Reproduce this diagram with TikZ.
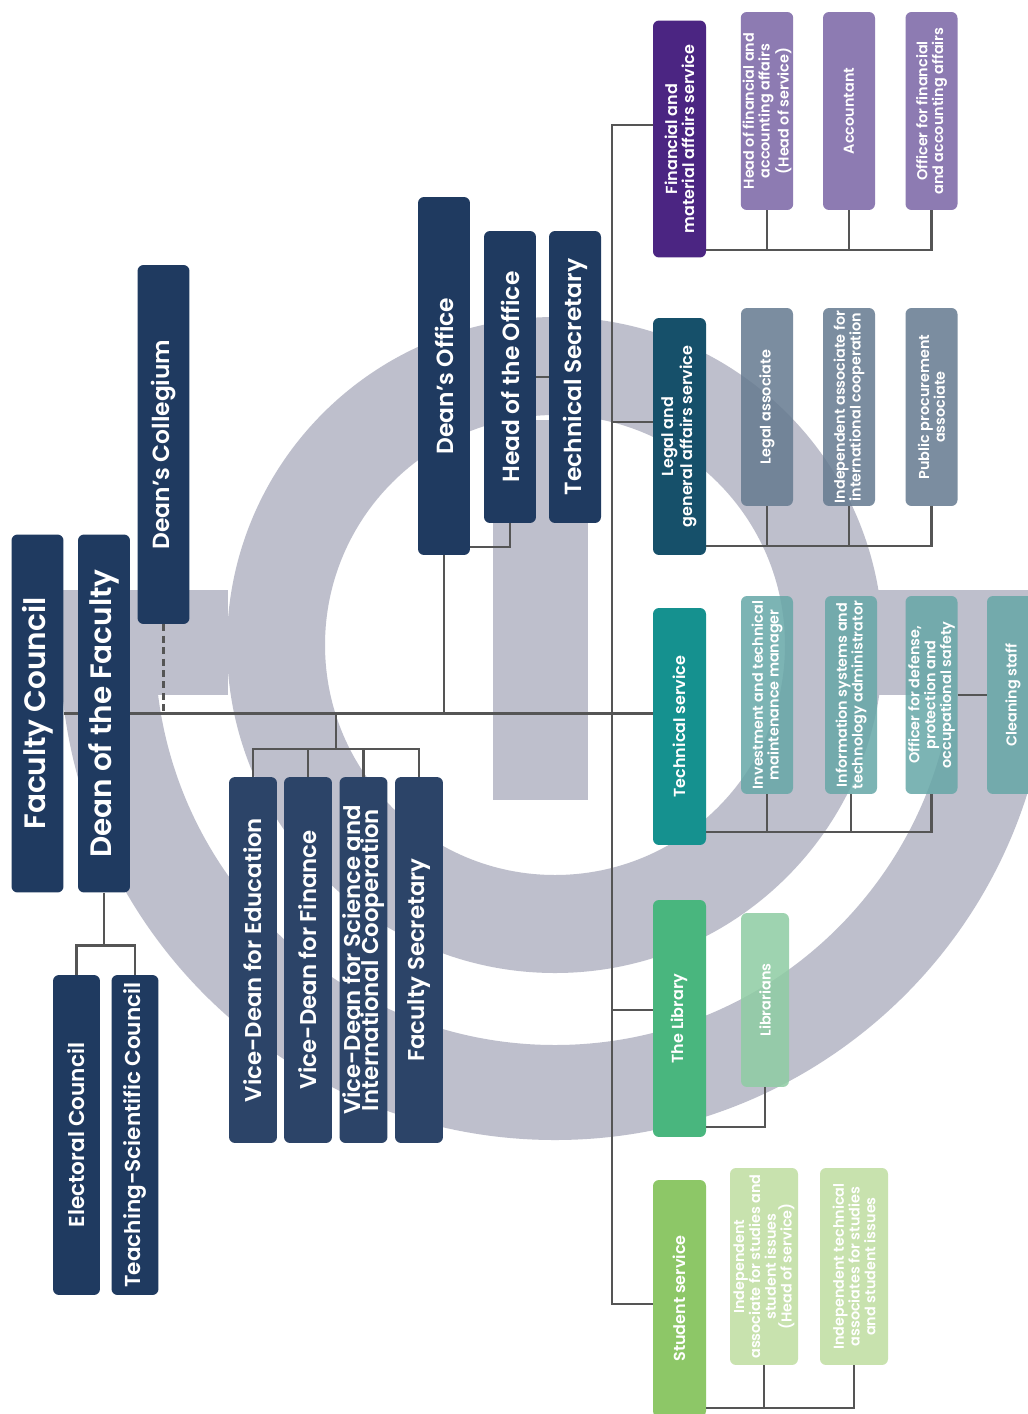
\documentclass[tikz,border=0pt]{standalone}
\usepackage{fontspec}
\IfFontExistsTF{Poppins SemiBold}
  {\setmainfont{Poppins}[BoldFont={Poppins SemiBold}]}
  {\setmainfont{Poppins}}
\definecolor{navy}{HTML}{1F3A60}
\definecolor{vicenavy}{HTML}{2C4468}
\definecolor{finhead}{HTML}{4B2582}
\definecolor{finstaff}{HTML}{7A65A5}
\definecolor{leghead}{HTML}{16506A}
\definecolor{legstaff}{HTML}{657A90}
\definecolor{techhead}{HTML}{15918F}
\definecolor{techstaff}{HTML}{66A7A7}
\definecolor{libhead}{HTML}{49B67E}
\definecolor{libstaff}{HTML}{8ECCA3}
\definecolor{stuhead}{HTML}{8DC767}
\definecolor{stustaff}{HTML}{BFDDA0}
\definecolor{logogrey}{HTML}{BEBFCC}
\definecolor{linegrey}{HTML}{555555}

\begin{document}
\begin{tikzpicture}[
  x=0.02cm, y=-0.02cm,
  box/.style={rectangle,rounded corners=1.2mm,rotate=90,align=center,text=white,inner sep=1pt},
  leadbox/.style={box,fill=navy,minimum height=1.04cm,minimum width=7.16cm,font=\fontsize{16.8}{12}\selectfont\bfseries},
  officebox/.style={box,fill=navy,minimum height=1.04cm,minimum width=5.84cm,font=\fontsize{13.3}{12}\selectfont\bfseries},
  councilbox/.style={box,fill=navy,minimum height=0.94cm,minimum width=6.4cm,font=\fontsize{12.3}{12}\selectfont\bfseries},
  vicebox/.style={box,fill=vicenavy,minimum height=0.96cm,minimum width=7.32cm,font=\fontsize{13}{10.6}\selectfont\bfseries},
  svcbox/.style={box,minimum height=1.06cm,minimum width=4.74cm,font=\fontsize{9.1}{9.6}\selectfont\bfseries},
  staffbox/.style={box,fill opacity=0.85,text opacity=1,minimum height=1.04cm,minimum width=3.96cm,font=\fontsize{8.2}{9}\selectfont\bfseries},
  conn/.style={draw=linegrey,line width=1.6pt},
]
\useasboundingbox (0,0) rectangle (1028,1414);
\fill[white] (0,0) rectangle (1028,1414);

% logo in the background
\fill[logogrey] (493,420) rectangle (588,800);
\fill[logogrey,even odd rule] (555,645) circle[radius=328] circle[radius=230];
\begin{scope}
  \clip (0,590) rectangle (1028,1414);
  \fill[logogrey,even odd rule] (555,645) circle[radius=495] circle[radius=400];
\end{scope}
\fill[logogrey] (132,590) rectangle (228,695);
\fill[logogrey] (860,590) rectangle (1028,695);

% management
\node[leadbox] (fc) at (37.5,713.5) {Faculty Council};
\node[leadbox] (dean) at (104,713.5) {Dean of the Faculty};
\node[officebox,minimum width=7.18cm] (col) at (163.5,444.5) {Dean's Collegium};
\node[councilbox] (elec) at (76.5,1135) {Electoral Council};
\node[councilbox] (teach) at (135,1135) {Teaching-Scientific Council};
\node[vicebox] (vde) at (253,960) {Vice-Dean for Education};
\node[vicebox] (vdf) at (308,960) {Vice-Dean for Finance};
\node[vicebox] (vds) at (363.5,960) {Vice-Dean for Science and\\International Cooperation};
\node[vicebox] (fsec) at (419,960) {Faculty Secretary};
\node[officebox,minimum width=7.16cm] (do) at (444,376) {Dean's Office};
\node[officebox] (head) at (510,377) {Head of the Office};
\node[officebox] (tsec) at (575,377) {Technical Secretary};

% services
\node[svcbox,fill=finhead] (fin) at (679.5,139) {Financial and\\material affairs service};
\node[svcbox,fill=leghead] (leg) at (679.5,436.5) {Legal and\\general affairs service};
\node[svcbox,fill=techhead] (tech) at (679.5,726.5) {Technical service};
\node[svcbox,fill=libhead] (lib) at (679.5,1018.5) {The Library};
\node[svcbox,fill=stuhead] (stu) at (679.5,1298.5) {Student service};

% staff
\node[staffbox,fill=finstaff] (fin1) at (767,111) {Head of financial and\\accounting affairs\\(Head of service)};
\node[staffbox,fill=finstaff] (fin2) at (849,111) {Accountant};
\node[staffbox,fill=finstaff] (fin3) at (931.5,111) {Officer for financial\\and accounting affairs};
\node[staffbox,fill=legstaff] (leg1) at (767,407) {Legal associate};
\node[staffbox,fill=legstaff] (leg2) at (849,407) {Independent associate for\\international cooperation};
\node[staffbox,fill=legstaff] (leg3) at (931.5,407) {Public procurement\\associate};
\node[staffbox,fill=techstaff] (tech1) at (767,695) {Investment and technical\\maintenance manager};
\node[staffbox,fill=techstaff] (tech2) at (851,695) {Information systems and\\technology administrator};
\node[staffbox,fill=techstaff] (tech3) at (931.5,695) {Officer for defense,\\protection and\\occupational safety};
\node[staffbox,fill=techstaff] (tech4) at (1013,695) {Cleaning staff};
\node[staffbox,fill=libstaff,minimum height=0.96cm,minimum width=3.48cm] (lib1) at (765,1000) {Librarians};
\node[staffbox,fill=stustaff,minimum height=1.36cm,minimum width=3.94cm] (stu1) at (764,1266.5) {Independent\\associate for studies and\\student issues\\(Head of service)};
\node[staffbox,fill=stustaff,minimum height=1.36cm,minimum width=3.94cm] (stu2) at (854,1266.5) {Independent technical\\associates for studies\\and student issues};

% connectors
\draw[conn] (fc.south) -- (dean.north);
\draw[conn] (dean.south) -- (dean.south -| tech.north);
\draw[conn,line width=1.2pt,dash pattern=on 4pt off 2.5pt] (col.west) -- (col.west |- dean.south);
\draw[conn] (dean.west) -- ++(0,53) coordinate (dsplit);
\draw[conn] (elec.east) |- (dsplit) -| (teach.east);
\coordinate (vsplit) at (336,749);
\draw[conn] (vsplit |- dean.south) -- (vsplit);
\draw[conn] (vde.east) |- (vsplit) -| (fsec.east);
\foreach \v in {vdf,vds}
  \draw[conn] (\v.east) -- (\v.east |- vsplit);
\draw[conn] (do.west) -- (do.west |- dean.south);
\coordinate (hsplit) at (510,547);
\draw[conn] (head.west) -- (hsplit) -- (hsplit -| do.south);
\draw[conn] (head.south) -- (tsec.north);

\coordinate (btop) at (612,125);
\coordinate (bbot) at (612,1304);
\draw[conn] (btop -| fin.north) -- (btop) -- (bbot) -- (bbot -| stu.north);
\coordinate (bleg) at (612,422);
\draw[conn] (bleg) -- (bleg -| leg.north);
\coordinate (blib) at (612,1010);
\draw[conn] (blib) -- (blib -| lib.north);

\coordinate (fbus) at (706,250);
\draw[conn] (fbus) -| (fin3.west);
\foreach \s in {fin1,fin2}
  \draw[conn] (\s.west) -- (\s.west |- fbus);
\coordinate (lbus) at (706,546);
\draw[conn] (lbus) -| (leg3.west);
\foreach \s in {leg1,leg2}
  \draw[conn] (\s.west) -- (\s.west |- lbus);
\coordinate (tbus) at (706,832);
\draw[conn] (tbus) -| (tech3.west);
\foreach \s in {tech1,tech2}
  \draw[conn] (\s.west) -- (\s.west |- tbus);
\draw[conn] (tech3.south) -- (tech4.north);
\coordinate (lbbus) at (706,1127);
\draw[conn] (lbbus) -| (lib1.west);
\coordinate (sbus) at (706,1408);
\draw[conn] (sbus) -| (stu2.west);
\draw[conn] (stu1.west) -- (stu1.west |- sbus);
\end{tikzpicture}
\end{document}
